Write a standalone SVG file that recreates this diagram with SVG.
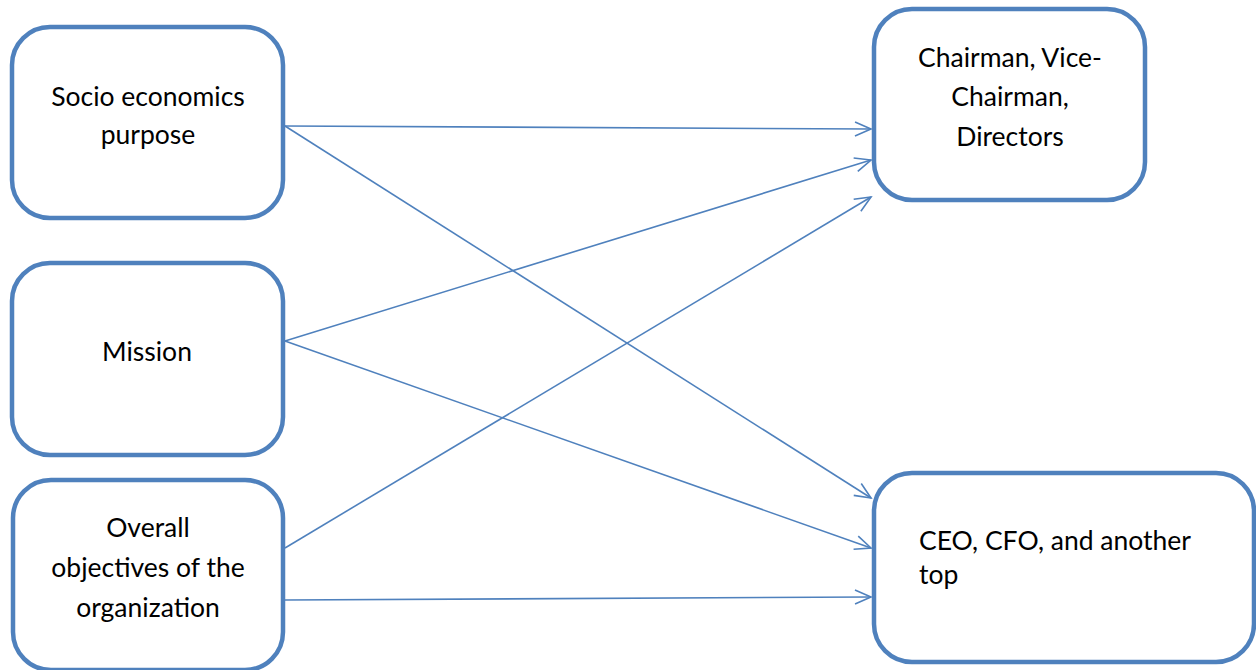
<svg xmlns="http://www.w3.org/2000/svg" width="1256" height="670" viewBox="0 0 1256 670">
<style>
.box{fill:#fff;stroke:#4F81BD;stroke-width:4.5}
.t{font-family:Lato,"Open Sans","Liberation Sans",sans-serif;font-size:26.5px;fill:#000;text-anchor:middle}
.l{text-anchor:start}
.c{stroke:#4F81BD;stroke-width:1.6;fill:none;marker-end:url(#ah)}
</style>
<defs>
<marker id="ah" markerWidth="20" markerHeight="20" refX="18" refY="8" orient="auto" markerUnits="userSpaceOnUse">
<path d="M2,1 L18,8 L2,15" fill="none" stroke="#4F81BD" stroke-width="1.6"/>
</marker>
</defs>
<rect width="1256" height="670" fill="#fff"/>
<g id="connectors">
<line class="c" x1="285" y1="126" x2="871" y2="129"/>
<line class="c" x1="285" y1="126" x2="871" y2="498"/>
<line class="c" x1="285" y1="341" x2="871" y2="160"/>
<line class="c" x1="285" y1="341" x2="871" y2="548"/>
<line class="c" x1="285" y1="548" x2="871" y2="197"/>
<line class="c" x1="285" y1="600" x2="871" y2="597"/>
</g>
<g id="socio">
<rect class="box" x="12" y="27" width="271" height="191" rx="38"/>
<text class="t" x="148" y="106">Socio economics</text>
<text class="t" x="148" y="144">purpose</text>
</g>
<g id="mission">
<rect class="box" x="12" y="263" width="271" height="192" rx="38"/>
<text class="t" x="147" y="361">Mission</text>
</g>
<g id="overall">
<rect class="box" x="13" y="480" width="270" height="190" rx="38"/>
<text class="t" x="148" y="537">Overall</text>
<text class="t" x="148" y="577">objectives of the</text>
<text class="t" x="148" y="617">organization</text>
</g>
<g id="chairman">
<rect class="box" x="874" y="9" width="271" height="191" rx="38"/>
<text class="t" x="1010" y="67">Chairman, Vice-</text>
<text class="t" x="1010" y="106">Chairman,</text>
<text class="t" x="1010" y="146">Directors</text>
</g>
<g id="ceo">
<rect class="box" x="874" y="473" width="380" height="189" rx="38"/>
<text class="t l" x="919" y="550">CEO, CFO, and another</text>
<text class="t l" x="919" y="584">top</text>
</g>
</svg>
